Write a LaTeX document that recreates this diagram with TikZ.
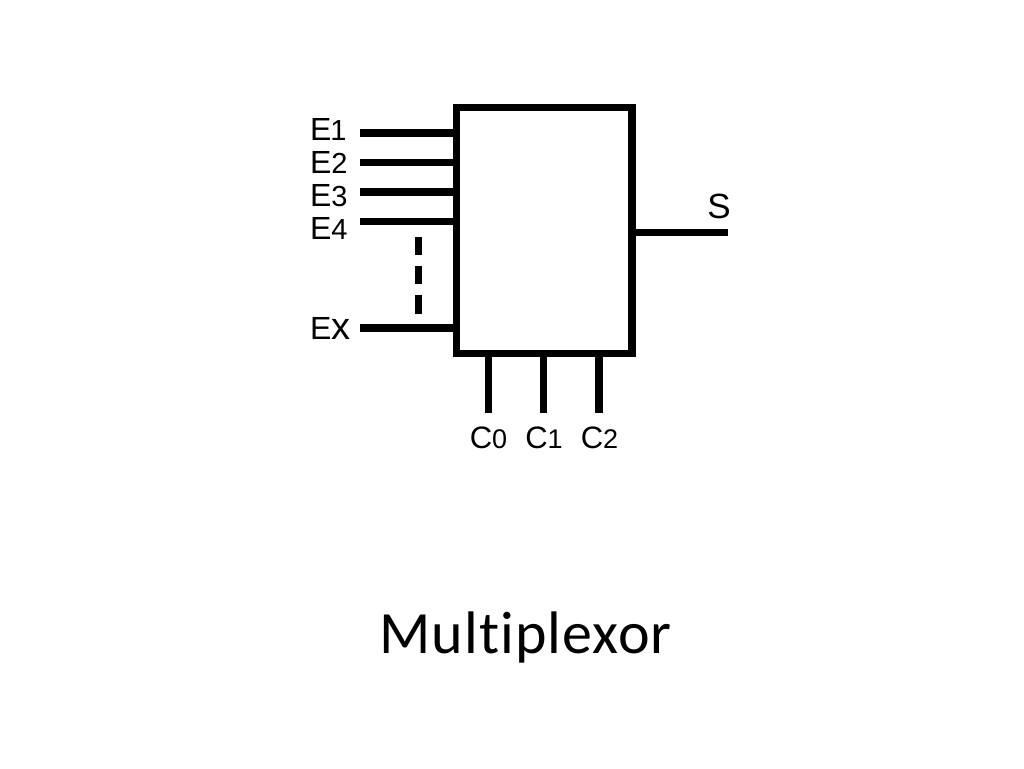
\documentclass[tikz,border=0pt]{standalone}
\usepackage{fontspec}
\setmainfont{Liberation Sans}
\newfontfamily\titlefont[Ligatures=NoCommon,LetterSpace=1.8]{Carlito}
\newcommand{\bigch}[1]{{\fontsize{32}{32}\selectfont #1}}
\newcommand{\smch}[1]{{\fontsize{29}{29}\selectfont #1}}
\newcommand{\cdig}[1]{{\fontsize{27}{27}\selectfont #1}}
\tikzset{
  wire/.style={line width=7.7pt, black},
  muxbox/.style={draw=black, line width=7.3pt, fill=white, minimum width=175.5pt, minimum height=246pt, inner sep=0pt, outer sep=0pt},
  sig/.style={inner sep=0pt, outer sep=0pt, text=black},
  gapdash/.style={line width=7.3pt, black}
}
\begin{document}
\begin{tikzpicture}[x=1pt,y=-1pt]
\useasboundingbox (0,0) rectangle (1024,768);
\node[muxbox] (box) at (544.25,230.5) {};
% free ends of the wires
\coordinate (e1) at (360,133);
\coordinate (e2) at (360,162.5);
\coordinate (e3) at (360,192);
\coordinate (e4) at (360,221.5);
\coordinate (ex) at (360,328);
\coordinate (sout) at (728,232.5);
\coordinate (c0) at (488.5,413);
\coordinate (c1) at (543.5,413);
\coordinate (c2) at (599,413);
\foreach \n in {e1,e2,e3,e4,ex} \draw[wire] (\n) -- (box.west |- \n);
\draw[wire] (box.east |- sout) -- (sout);
\foreach \n in {c0,c1,c2} \draw[wire] (box.south -| \n) -- (\n);
% dashed continuation
\coordinate (d1a) at (418.5,236.5); \coordinate (d1b) at (418.5,255);
\coordinate (d2a) at (418.5,266);   \coordinate (d2b) at (418.5,284);
\coordinate (d3a) at (418.5,295);   \coordinate (d3b) at (418.5,313.5);
\draw[gapdash] (d1a) -- (d1b);
\draw[gapdash] (d2a) -- (d2b);
\draw[gapdash] (d3a) -- (d3b);
% labels
\node[sig,anchor=base west] (le1) at (310,140) {\bigch{E}\kern-1pt\smch{1}};
\node[sig,anchor=base west] (le2) at (310,173) {\bigch{E}\smch{2}};
\node[sig,anchor=base west] (le3) at (310,206) {\bigch{E}\smch{3}};
\node[sig,anchor=base west] (le4) at (310,239) {\bigch{E}\smch{4}};
\node[sig,anchor=base west] (lex) at (310,339) {\bigch{E}{\fontsize{38}{38}\selectfont x}};
\node[sig,anchor=base] (lc0) at (488.5,448) {\fontsize{31}{31}\selectfont C\cdig{0}};
\node[sig,anchor=base] (lc1) at (544,448) {\fontsize{31}{31}\selectfont C\cdig{1}};
\node[sig,anchor=base] (lc2) at (599.5,448) {\fontsize{31}{31}\selectfont C\cdig{2}};
\node[sig,anchor=base] (ls) at (719,218) {\fontsize{35}{35}\selectfont S};
\node[sig,anchor=base] (title) at (525.5,653) {\titlefont\fontsize{60}{60}\selectfont Multiplexor};
\end{tikzpicture}
\end{document}
